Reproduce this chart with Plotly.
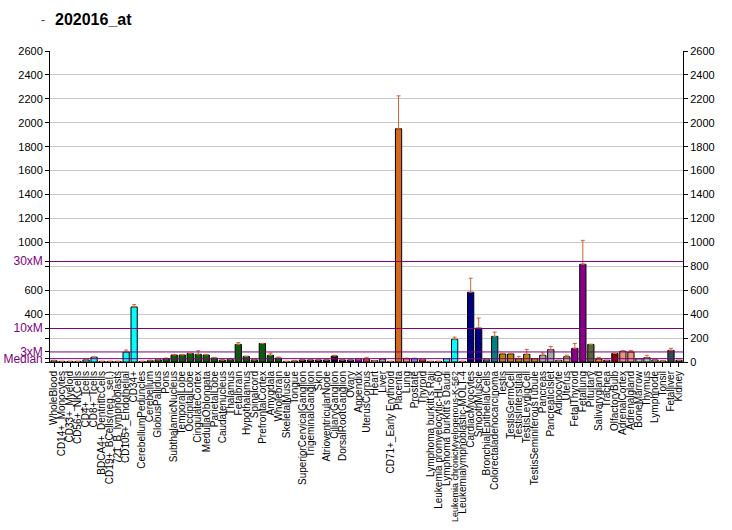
import plotly.graph_objects as go

title_text = "202016_at"

categories = [
    "WholeBlood", "CD14+_Monocytes", "CD33+_Myeloid", "CD56+_NKCells", "CD4+_Tcells",
    "CD8+_Tcells", "BDCA4+_DentriticCells", "CD19+_BCells(neg._sel.)", "721_B_lymphoblasts",
    "CD105+_Endothelial", "CD34+", "CerebellumPeduncles", "Cerebellum", "GlobusPallidus",
    "Pons", "SubthalamicNucleus", "TemporalLobe", "OccipitalLobe", "CingulateCortex",
    "MedullaOblongata", "ParietalLobe", "Caudatenucleus", "Thalamus", "Fetalbrain",
    "Hypothalamus", "Spinalcord", "PrefrontalCortex", "Amygdala", "Wholebrain",
    "SkeletalMuscle", "Tongue", "SuperiorCervicalGanglion", "TrigeminalGanglion", "Skin",
    "AtrioventricularNode", "CiliaryGanglion", "DorsalRootGanglion", "Ovary", "Appendix",
    "UterusCorpus", "Heart", "Liver", "CD71+_Early Erythroid", "Placenta", "Lung",
    "Prostate", "Thyroid", "Lymphoma burkitt's Raji", "Leukemia promyelocytic-HL-60",
    "Lymphoma burkitt's Daudi", "Leukemia chronicMyelogenous-K-562",
    "Leukemialymphoblastic-MOLT-4", "CardiacMyocytes", "SmoothMuscle",
    "BronchialEpithelialCells", "Colorectaladenocarcinoma", "Testis", "TestisGermCell",
    "TestisInterstitial", "TestisLeydigCell", "TestisSeminiferousTubule", "Pancreas",
    "PancreaticIslet", "Adipocyte", "Uterus", "FetalThyroid", "Fetallung", "Pituitary",
    "Salivarygland", "Trachea", "OlfactoryBulb", "AdrenalCortex", "Adrenalgland",
    "BoneMarrow", "Thymus", "Lymphnode", "Tonsil", "Fetalliver", "Kidney",
]

values = [
    10, 5, 5, 5, 17,
    40, 5, 5, 5,
    82, 460, 5, 10, 18,
    25, 58, 58, 72, 64,
    58, 33, 15, 20, 147,
    47, 18, 155, 56, 33,
    5, 8, 17, 17, 17,
    17, 50, 17, 17, 22,
    22, 12, 22, 5, 1950, 28,
    28, 19, 5, 5,
    28, 189,
    5, 583, 283,
    19, 214, 67, 67,
    28, 64, 28, 56,
    103, 14, 44, 114, 817, 147,
    22, 14, 72, 89, 83,
    28, 36, 17, 8, 97, 14,
]

errors = [
    4, 0, 0, 0, 0,
    0, 0, 0, 0,
    18, 20, 0, 5, 0,
    8, 5, 5, 0, 30,
    6, 6, 5, 10, 15,
    0, 0, 0, 18, 8,
    0, 6, 0, 0, 0,
    0, 6, 0, 0, 0,
    17, 0, 8, 0, 275, 4,
    4, 0, 0, 0,
    0, 19,
    0, 117, 84,
    0, 36, 5, 5,
    19, 41, 0, 19,
    27, 0, 12, 41, 200, 0,
    17, 0, 0, 5, 14,
    0, 20, 0, 0, 17, 0,
]

median_value = 28
fold_levels = [1, 3, 10, 30]
fold_labels = ["Median", "3xM", "10xM", "30xM"]

y_ticks = [0, 200, 400, 600, 800, 1000, 1200, 1400, 1600, 1800, 2000, 2200, 2400, 2600]
left_hidden = [0, 200, 800]

# colours (style, one per tissue group)
CYAN = "#00FFFF"
GREEN = "#006400"
DARK = "#1A001A"
group_colors = (
    [CYAN] * 11
    + [GREEN] * 18
    + ["#D2A0A0", "#B05050"]
    + [DARK] * 6
    + ["#0000CC", "#9900CC", "#CC3355", "#E8C8A0", "#88AACC", "#FF6666", "#D2691E",
       "#FF8080", "#8080FF", "#DC143C"]
    + [CYAN] * 5
    + ["#000080", "#000080", "#008080", "#008080"]
    + ["#B8860B"] * 5
    + ["#AAAAAA", "#AAAAAA", "#90E0A0", "#C8B878", "#8B008B", "#8B008B", "#556B2F",
       "#FF8C00", "#9932CC", "#8B0000", "#E9967A", "#E9967A"]
    + ["#A8C8A8"] * 4
    + ["#2F4F4F", "#2F4F4F"]
)

FONT = "Arial, Liberation Sans, sans-serif"
PURPLE = "#800080"

# long labels get a slightly smaller size so they fit above the page bottom
x_ticktext = [c if len(c) < 30 else f'<span style="font-size:9px">{c}</span>'
              for c in categories]

fig = go.Figure()
fig.add_trace(go.Bar(
    x=categories, y=values,
    marker=dict(color=group_colors, line=dict(color="black", width=1)),
    error_y=dict(type="data", array=errors, arrayminus=[0] * len(errors),
                 symmetric=False, color="#CC6633", thickness=1, width=2),
    yaxis="y", showlegend=False,
))
fig.add_trace(go.Scatter(x=[categories[0]], y=[0], yaxis="y2", mode="markers",
                         marker=dict(opacity=0), showlegend=False, hoverinfo="skip"))

left_vals = [v for v in y_ticks if v not in left_hidden] + [0, 200, 800]
left_text = [str(v) for v in y_ticks if v not in left_hidden] + ["", "", ""]
for f, lab in zip(fold_levels, fold_labels):
    left_vals.append(median_value * f)
    left_text.append(f'<span style="color:{PURPLE};font-size:12px">{lab}</span>')

for f in fold_levels:
    fig.add_shape(type="line", xref="paper", x0=0, x1=1, yref="y",
                  y0=median_value * f, y1=median_value * f,
                  line=dict(color=PURPLE, width=1), layer="above")

fig.add_annotation(text="<b>" + title_text + "</b>", xref="paper", yref="paper",
                   x=0.0047, y=1.0997, xanchor="left", yanchor="middle", showarrow=False,
                   font=dict(family=FONT, size=16, color="black"))
fig.add_annotation(text="-", xref="paper", yref="paper",
                   x=-0.004, y=1.0997, xanchor="right", yanchor="middle", showarrow=False,
                   font=dict(family=FONT, size=12, color=PURPLE))

fig.update_layout(
    width=732, height=530,
    margin=dict(l=50, r=49, t=51, b=168, pad=0),
    paper_bgcolor="white", plot_bgcolor="white",
    bargap=0.22,
    font=dict(family=FONT, size=11, color="black"),
    xaxis=dict(type="category", range=[-0.5, len(categories) - 0.5], tickangle=-90,
               tickmode="array", tickvals=categories, ticktext=x_ticktext,
               automargin=False,
               ticks="outside", ticklen=4, tickcolor="black", showline=True,
               linecolor="black", linewidth=1, showgrid=False,
               tickfont=dict(family=FONT, size=10, color="black")),
    yaxis=dict(range=[0, 2600], tickmode="array", tickvals=left_vals, ticktext=left_text,
               automargin=False,
               ticks="outside", ticklen=4, tickcolor="black", showline=True,
               linecolor="black", linewidth=1, showgrid=False, zeroline=False,
               tickfont=dict(family=FONT, size=11, color="black")),
    yaxis2=dict(range=[0, 2600], overlaying="y", side="right", tickmode="array",
                tickvals=y_ticks, ticks="outside", ticklen=4, tickcolor="black",
                automargin=False,
                showline=True, linecolor="black", linewidth=1, showgrid=True,
                gridcolor="#C8C8C8", gridwidth=1, zeroline=False,
                tickfont=dict(family=FONT, size=11, color="black")),
)

fig.write_html("out.html", config={"displayModeBar": False},
               post_script="document.body.style.margin='0px';document.body.style.overflow='hidden';")
